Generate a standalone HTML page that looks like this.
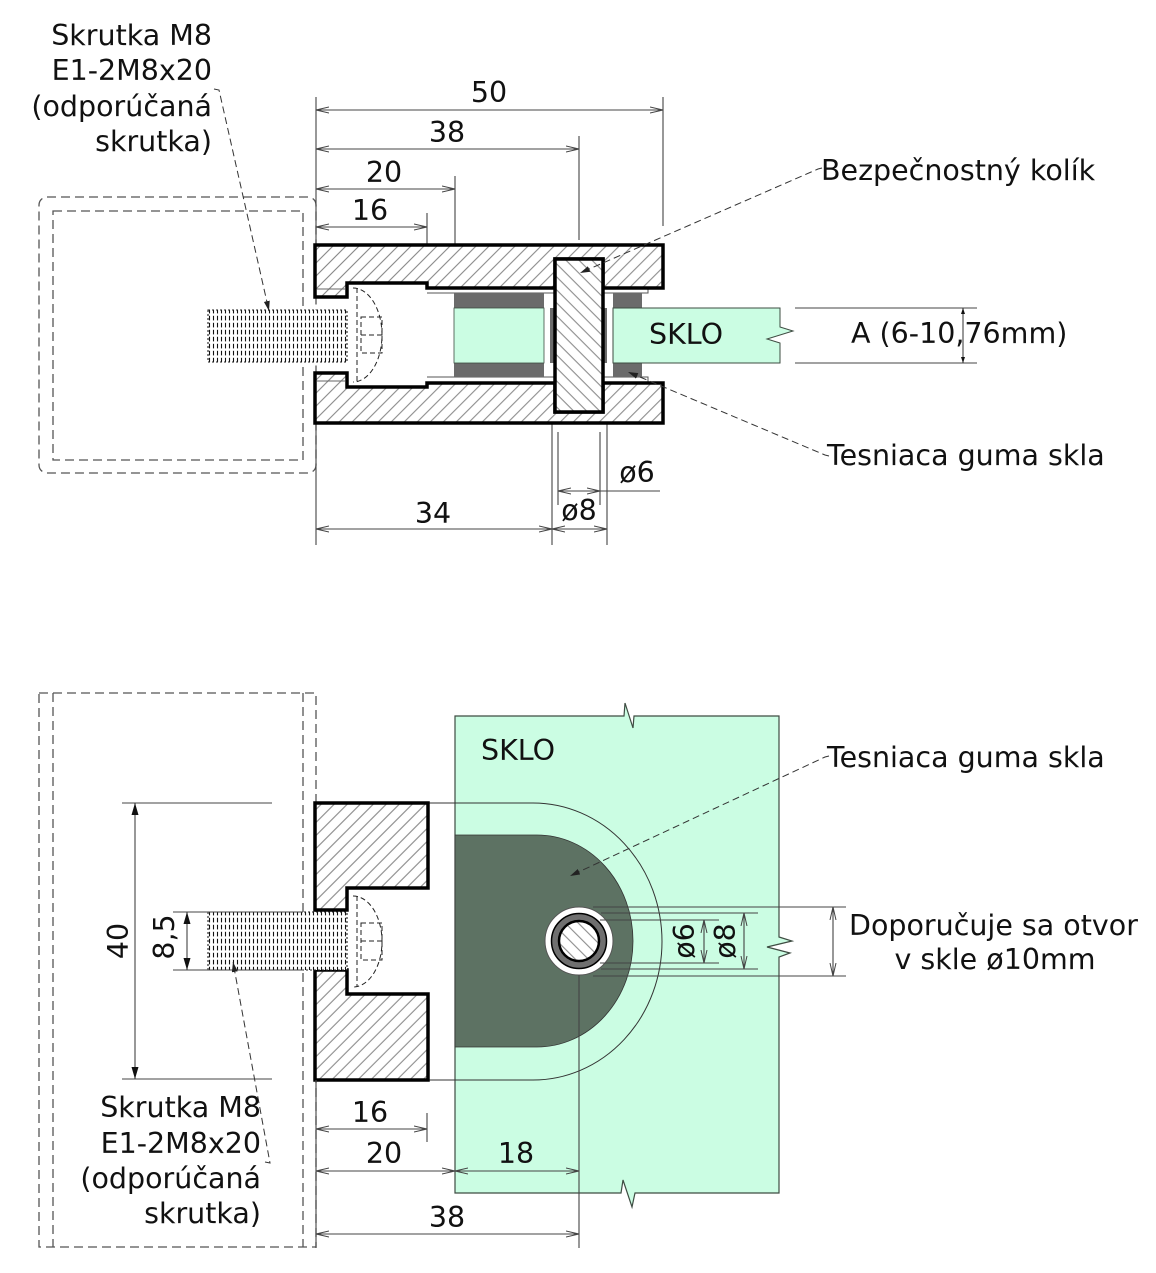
<!DOCTYPE html>
<html><head><meta charset="utf-8"><style>
html,body{margin:0;padding:0;background:#fff;}
svg{display:block;}
text{font-family:"DejaVu Sans","Liberation Sans",sans-serif;font-size:28.5px;fill:#111;}
</style></head><body>
<svg width="1156" height="1273" viewBox="0 0 1156 1273" xmlns="http://www.w3.org/2000/svg">
<defs>
<pattern id="hA" width="9.2" height="9.2" patternUnits="userSpaceOnUse" patternTransform="rotate(45)"><rect width="9.2" height="9.2" fill="#fff"/><line x1="4.6" y1="0" x2="4.6" y2="9.2" stroke="#707070" stroke-width="0.9"/></pattern>
<pattern id="hB" width="9.2" height="9.2" patternUnits="userSpaceOnUse" patternTransform="rotate(-45)"><rect width="9.2" height="9.2" fill="#fff"/><line x1="4.6" y1="0" x2="4.6" y2="9.2" stroke="#707070" stroke-width="0.9"/></pattern>
<pattern id="thr" width="4" height="7" patternUnits="userSpaceOnUse"><rect width="4" height="7" fill="#fff"/><line x1="1.5" y1="0.8" x2="1.5" y2="5.4" stroke="#111" stroke-width="1.1"/></pattern>
<marker id="da" markerUnits="userSpaceOnUse" markerWidth="16" markerHeight="10" refX="13" refY="4" orient="auto-start-reverse"><path d="M0,1 L13,4 L0,7" fill="none" stroke="#444" stroke-width="1"/></marker>
<marker id="fa" markerUnits="userSpaceOnUse" markerWidth="14" markerHeight="10" refX="12" refY="4" orient="auto-start-reverse"><path d="M0,0.5 L12,4 L0,7.5 Z" fill="#111"/></marker>
<marker id="sa" markerUnits="userSpaceOnUse" markerWidth="8" markerHeight="6" refX="6" refY="2.5" orient="auto-start-reverse"><path d="M0,0.5 L6,2.5 L0,4.5 Z" fill="#111"/></marker>
<marker id="la" markerUnits="userSpaceOnUse" markerWidth="12" markerHeight="8" refX="10" refY="3" orient="auto"><path d="M0,0 L10,3 L0,6 Z" fill="#222"/></marker>
</defs>

<!-- ================= TOP VIEW ================= -->
<g fill="none" stroke="#555" stroke-width="1.3" stroke-dasharray="9,5">
<rect x="39" y="197" width="277" height="276" rx="8"/>
<rect x="53" y="211" width="250" height="249"/>
</g>

<g stroke="#444" stroke-width="1.1" fill="none">
<line x1="316" y1="97" x2="316" y2="245"/>
<line x1="316" y1="423" x2="316" y2="545"/>
<line x1="663" y1="97" x2="663" y2="226"/>
<line x1="579" y1="136" x2="579" y2="240"/>
<line x1="455" y1="176" x2="455" y2="273"/>
<line x1="427" y1="213" x2="427" y2="262"/>
<line x1="552" y1="412" x2="552" y2="545"/>
<line x1="607" y1="412" x2="607" y2="545"/>
<line x1="558" y1="432" x2="558" y2="505"/>
<line x1="600" y1="432" x2="600" y2="505"/>
</g>
<g stroke="#444" stroke-width="1.1" fill="none">
<line x1="316" y1="110" x2="663" y2="110" marker-start="url(#da)" marker-end="url(#da)"/>
<line x1="316" y1="149" x2="579" y2="149" marker-start="url(#da)" marker-end="url(#da)"/>
<line x1="316" y1="189" x2="455" y2="189" marker-start="url(#da)" marker-end="url(#da)"/>
<line x1="316" y1="227" x2="427" y2="227" marker-start="url(#da)" marker-end="url(#da)"/>
<line x1="316" y1="529" x2="552" y2="529" marker-start="url(#da)" marker-end="url(#da)"/>
<line x1="552" y1="529" x2="607" y2="529" marker-start="url(#da)" marker-end="url(#da)"/>
<line x1="558" y1="491" x2="600" y2="491" marker-start="url(#da)" marker-end="url(#da)"/>
<line x1="600" y1="491" x2="660" y2="491"/>
</g>
<text x="489" y="102" text-anchor="middle">50</text>
<text x="447" y="142" text-anchor="middle">38</text>
<text x="384" y="182" text-anchor="middle">20</text>
<text x="370" y="220" text-anchor="middle">16</text>
<text x="433" y="523" text-anchor="middle">34</text>
<text x="579" y="520" text-anchor="middle">ø8</text>
<text x="637" y="482" text-anchor="middle">ø6</text>

<g stroke="#555" stroke-width="1" fill="none">
<path d="M427,293 H648 V288"/>
<path d="M427,377 H648 V383"/>
</g>
<rect x="454" y="293" width="90" height="84" fill="#6b6b6b"/>
<rect x="454" y="308" width="90" height="55" fill="#cbfde3" stroke="#3e4c42" stroke-width="0.8"/>
<rect x="550" y="308" width="7" height="55" fill="#6b6b6b"/>
<rect x="603" y="308" width="4" height="55" fill="#6b6b6b"/>
<rect x="613" y="293" width="29" height="84" fill="#6b6b6b"/>
<path d="M613,308 H780 V327 L793,331 L767,339 L780,343 V363 H613 Z" fill="#cbfde3" stroke="#3e4c42" stroke-width="1"/>
<text x="649" y="344">SKLO</text>

<path d="M315,245 H663 V288 H603 V259 H555 V288 H427 V283 H347 V297 H315 Z" fill="url(#hA)" stroke="#000" stroke-width="3.5"/>
<path d="M315,373 H347 V387 H427 V383 H555 V412 H603 V383 H663 V423 H315 Z" fill="url(#hA)" stroke="#000" stroke-width="3.5"/>
<line x1="317" y1="289" x2="345" y2="289" stroke="#666" stroke-width="1"/>
<line x1="317" y1="381" x2="345" y2="381" stroke="#666" stroke-width="1"/>
<rect x="555" y="259" width="48" height="153" fill="url(#hB)" stroke="#000" stroke-width="3.5"/>

<rect x="208" y="310" width="139" height="52" fill="url(#thr)" stroke="#222" stroke-width="1.1" stroke-dasharray="2,2"/>
<g fill="none" stroke="#222" stroke-width="1" stroke-dasharray="5,3">
<path d="M353,288 A29,47 0 0 1 353,382"/>
<line x1="357" y1="288" x2="357" y2="382"/>
<rect x="361" y="317" width="21" height="36"/>
<line x1="361" y1="335" x2="382" y2="335"/>
</g>

<g stroke="#444" stroke-width="1.1">
<line x1="795" y1="308" x2="977" y2="308"/>
<line x1="795" y1="363" x2="977" y2="363"/>
<line x1="963" y1="308" x2="963" y2="363" marker-start="url(#sa)" marker-end="url(#sa)"/>
</g>
<text x="851" y="343">A (6-10,76mm)</text>

<g fill="none" stroke="#333" stroke-width="1" stroke-dasharray="7,4">
<path d="M822,168 L818,169 L580,273" marker-end="url(#la)"/>
<path d="M829,456 L825,455 L628,372" marker-end="url(#la)"/>
<path d="M214,89 L219,90 L269,311" marker-end="url(#la)"/>
</g>
<text x="821" y="180">Bezpečnostný kolík</text>
<text x="827" y="465">Tesniaca guma skla</text>
<g text-anchor="end">
<text x="212" y="45">Skrutka M8</text>
<text x="212" y="80">E1-2M8x20</text>
<text x="212" y="116">(odporúčaná</text>
<text x="212" y="151">skrutka)</text>
</g>

<!-- ================= BOTTOM VIEW ================= -->
<g fill="none" stroke="#555" stroke-width="1.3" stroke-dasharray="9,5">
<rect x="39" y="693" width="277" height="554"/>
<line x1="53" y1="693" x2="53" y2="1247"/>
<line x1="303" y1="693" x2="303" y2="1247"/>
</g>

<path d="M455,716 H624 L625,703 L633,728 L634,716 H779 V937 L792,941 L767,947 L790,953 L779,957 V1193 H635 L632,1207 L623,1180 L621,1193 H455 Z" fill="#cbfde3" stroke="#3e4c42" stroke-width="1.2"/>
<text x="481" y="760">SKLO</text>
<path d="M455,835 H537 A96,106 0 0 1 537,1047 H455 Z" fill="#5d7263" stroke="#333" stroke-width="0.8"/>
<path d="M428,803 H533 A129,138.5 0 0 1 533,1080 H428" fill="none" stroke="#333" stroke-width="1"/>

<circle cx="579" cy="941" r="34" fill="#fff" stroke="#555" stroke-width="1"/>
<circle cx="579" cy="941" r="27.5" fill="#6f6f6f" stroke="#000" stroke-width="1.5"/>
<circle cx="579" cy="941" r="20" fill="url(#hB)" stroke="#000" stroke-width="2.5"/>

<g stroke="#444" stroke-width="1.1" fill="none">
<line x1="593" y1="907" x2="846" y2="907"/>
<line x1="601" y1="913" x2="758" y2="913"/>
<line x1="600" y1="920" x2="719" y2="920"/>
<line x1="600" y1="963" x2="719" y2="963"/>
<line x1="601" y1="969" x2="758" y2="969"/>
<line x1="593" y1="976" x2="846" y2="976"/>
<line x1="704" y1="920" x2="704" y2="963" marker-start="url(#da)" marker-end="url(#da)"/>
<line x1="744" y1="913" x2="744" y2="969" marker-start="url(#da)" marker-end="url(#da)"/>
<line x1="833" y1="907" x2="833" y2="976" marker-start="url(#da)" marker-end="url(#da)"/>
<line x1="579" y1="975" x2="579" y2="1248"/>
</g>
<text transform="translate(694,941) rotate(-90)" text-anchor="middle">ø6</text>
<text transform="translate(735,941) rotate(-90)" text-anchor="middle">ø8</text>

<path d="M315,803 H428 V888 H347 V910 H315 Z" fill="url(#hA)" stroke="#000" stroke-width="3.5"/>
<path d="M315,970 H347 V994 H428 V1080 H315 Z" fill="url(#hA)" stroke="#000" stroke-width="3.5"/>

<rect x="208" y="912" width="139" height="58" fill="url(#thr)" stroke="#222" stroke-width="1.1" stroke-dasharray="2,2"/>
<g fill="none" stroke="#222" stroke-width="1" stroke-dasharray="5,3">
<path d="M353,896 A29,45.5 0 0 1 353,987"/>
<line x1="357" y1="896" x2="357" y2="987"/>
<rect x="361" y="923" width="21" height="37"/>
<line x1="361" y1="941" x2="382" y2="941"/>
</g>

<g stroke="#444" stroke-width="1.1" fill="none">
<line x1="122" y1="803" x2="272" y2="803"/>
<line x1="122" y1="1079" x2="272" y2="1079"/>
<line x1="173" y1="912" x2="303" y2="912"/>
<line x1="173" y1="970" x2="303" y2="970"/>
<line x1="135" y1="803" x2="135" y2="1079" marker-start="url(#fa)" marker-end="url(#fa)"/>
<line x1="187" y1="912" x2="187" y2="970" marker-start="url(#fa)" marker-end="url(#fa)"/>
</g>
<text transform="translate(128,941) rotate(-90)" text-anchor="middle">40</text>
<text transform="translate(174,937) rotate(-90)" text-anchor="middle">8,5</text>

<g stroke="#444" stroke-width="1.1" fill="none">
<line x1="316" y1="1080" x2="316" y2="1248"/>
<line x1="427" y1="1113" x2="427" y2="1142"/>
<line x1="316" y1="1129" x2="427" y2="1129" marker-start="url(#da)" marker-end="url(#da)"/>
<line x1="316" y1="1171" x2="455" y2="1171" marker-start="url(#da)" marker-end="url(#da)"/>
<line x1="455" y1="1171" x2="579" y2="1171" marker-start="url(#da)" marker-end="url(#da)"/>
<line x1="316" y1="1234" x2="579" y2="1234" marker-start="url(#da)" marker-end="url(#da)"/>
</g>
<text x="370" y="1122" text-anchor="middle">16</text>
<text x="384" y="1163" text-anchor="middle">20</text>
<text x="516" y="1163" text-anchor="middle">18</text>
<text x="447" y="1227" text-anchor="middle">38</text>

<g fill="none" stroke="#333" stroke-width="1" stroke-dasharray="7,4">
<path d="M829,756 L825,757 L570,876" marker-end="url(#la)"/>
<path d="M265,1162 L270,1163 L233,962" marker-end="url(#la)"/>
</g>
<text x="827" y="767">Tesniaca guma skla</text>
<text x="849" y="935">Doporučuje sa otvor</text>
<text x="995" y="969" text-anchor="middle">v skle ø10mm</text>
<g text-anchor="end">
<text x="261" y="1117">Skrutka M8</text>
<text x="261" y="1153">E1-2M8x20</text>
<text x="261" y="1188">(odporúčaná</text>
<text x="261" y="1223">skrutka)</text>
</g>
</svg>
</body></html>
